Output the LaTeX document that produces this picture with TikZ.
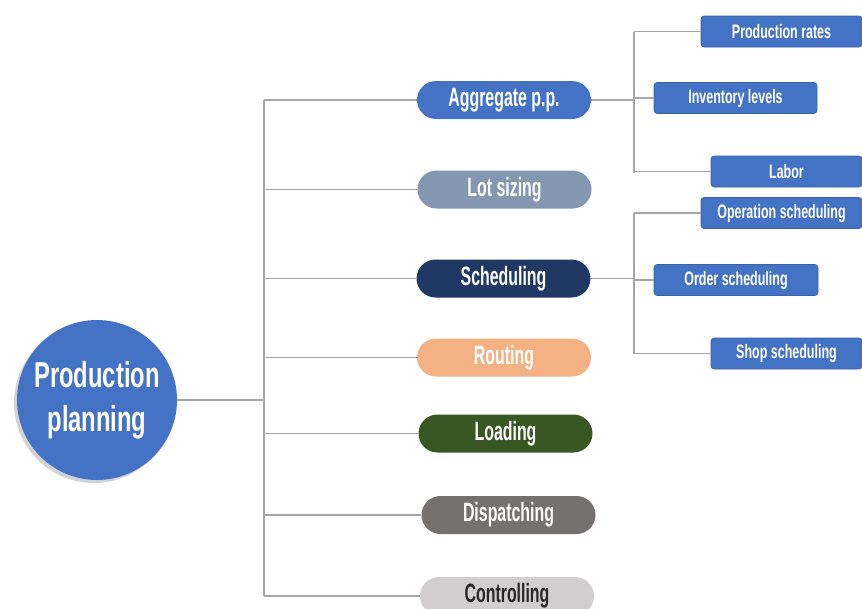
\documentclass[tikz,border=0pt]{standalone}
\usepackage{fontspec}
\setmainfont{Liberation Sans}[FakeStretch=0.65]
\newfontfamily\hubfont{Liberation Sans}[FakeStretch=0.66]
\newfontfamily\pillfont{Liberation Sans}[FakeStretch=0.6]
\newfontfamily\leaffont{Liberation Sans}[FakeStretch=0.64]
\usetikzlibrary{positioning,shapes.misc,shadows}

\definecolor{mainblue}{HTML}{4472C4}
\definecolor{edgeblue}{HTML}{3A62A8}
\definecolor{lotgrey}{HTML}{8497B0}
\definecolor{navy}{HTML}{1F3864}
\definecolor{peach}{HTML}{F4B183}
\definecolor{forest}{HTML}{385723}
\definecolor{taupe}{HTML}{767171}
\definecolor{silver}{HTML}{D0CECE}
\definecolor{linegrey}{HTML}{A6A6A6}

\begin{document}
\begin{tikzpicture}[x=1pt,y=-1pt,
    hub/.style={circle,fill=mainblue,minimum size=160pt,inner sep=0pt,align=center,
        text=white,font=\hubfont\bfseries\fontsize{36}{44}\selectfont,
        drop shadow={opacity=0.35,shadow xshift=-3pt,shadow yshift=-3pt}},
    pill/.style={rounded rectangle,minimum width=174pt,minimum height=38pt,inner sep=0pt,
        text=white,font=\pillfont\bfseries\fontsize{26.5}{30}\selectfont},
    leaf/.style={rectangle,rounded corners=3pt,fill=mainblue,draw=edgeblue,line width=0.6pt,
        minimum height=31pt,inner sep=0pt,text=white,font=\leaffont\bfseries\fontsize{19.5}{22}\selectfont},
    wire/.style={draw=linegrey,line width=1.3pt}]
        \clip (0,0) rectangle (862,608);
        % centre
        \node[hub] (plan) at (97,400) {Production\\planning};
        % main branches
        \node[pill,fill=mainblue] (agg) at (504,100) {Aggregate p.p.};
        \node[pill,fill=lotgrey] (lot) at (504.5,189.5) {Lot sizing};
        \node[pill,fill=navy] (sched) at (503.5,278.5) {Scheduling};
        \node[pill,fill=peach] (rout) at (504,357.5) {Routing};
        \node[pill,fill=forest] (load) at (505.5,433.5) {Loading};
        \node[pill,fill=taupe] (disp) at (508.5,515) {Dispatching};
        \node[pill,fill=silver,text=black!85] (ctrl) at (507,596) {Controlling};
        % aggregate planning leaves
        \node[leaf,minimum width=161pt] (rates) at (781.5,31.5) {Production rates};
        \node[leaf,minimum width=163pt] (inv) at (735.5,98) {Inventory levels};
        \node[leaf,minimum width=151pt] (labor) at (786.5,171.5) {Labor};
        % scheduling leaves
        \node[leaf,minimum width=161pt] (oper) at (781.5,213) {Operation scheduling};
        \node[leaf,minimum width=164pt] (order) at (736,280) {Order scheduling};
        \node[leaf,minimum width=151pt] (shop) at (786.5,353.5) {Shop scheduling};
        % trunks
        \coordinate (ttop) at (264,100);
        \coordinate (tbot) at (264,596);
        \coordinate (atop) at (634,31.5);
        \coordinate (abot) at (634,173);
        \coordinate (stop) at (634,213);
        \coordinate (sbot) at (634,354);
        \draw[wire] (ttop) -- (tbot);
        \draw[wire] (plan.east) -- (plan.east -| ttop);
        \foreach \n in {agg,lot,sched,rout,load,disp,ctrl}
            \draw[wire] (\n.west -| ttop) -- (\n.west);
        \draw[wire] (atop) -- (abot);
        \draw[wire] (agg.east) -- (agg.east -| atop);
        \foreach \n in {rates,inv,labor}
            \draw[wire] (\n.west -| atop) -- (\n.west);
        \draw[wire] (stop) -- (sbot);
        \draw[wire] (sched.east) -- (sched.east -| stop);
        \foreach \n in {oper,order,shop}
            \draw[wire] (\n.west -| stop) -- (\n.west);
    \end{tikzpicture}
\end{document}
